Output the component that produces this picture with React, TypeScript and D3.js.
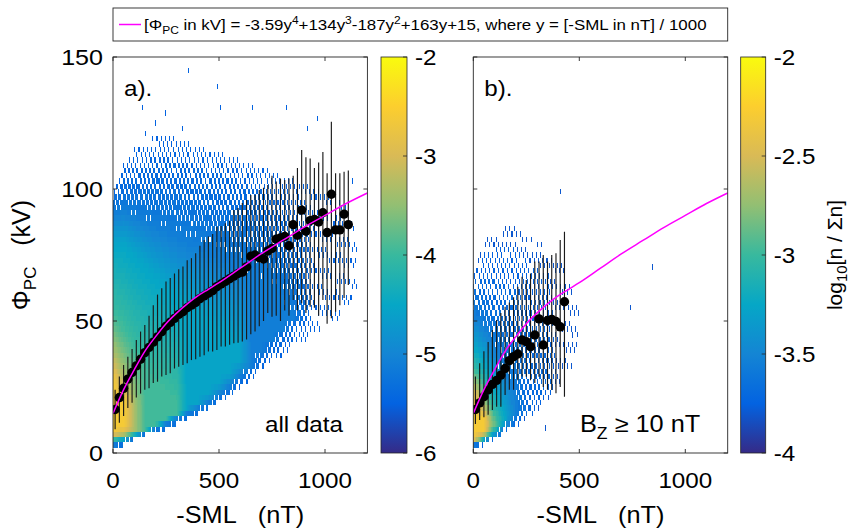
import * as d3 from "d3";

const FONT = "'Liberation Sans', Arial, Helvetica, sans-serif";
const INK = "#262626";
const TOP = 57;
const BOTTOM = 453;
const PW = 254.4;

// MATLAB parula stops
const PARULA = ["#352a87", "#0363e1", "#1485d4", "#06a7c6", "#38b99e", "#92bf73", "#d9ba56", "#fcce2e", "#f9fb0e"];
const parula = d3.piecewise(d3.interpolateRgb, PARULA);

// magenta fit
const fitSml = [0, 50, 100, 150, 200, 250, 300, 350, 400, 450, 500, 600, 700, 800, 900, 1000, 1100, 1200];
const fitPhi = [15, 24, 31.5, 38.5, 44, 49, 53, 56.5, 59.5, 62, 64.5, 70, 75.5, 80.5, 85.5, 90, 94.5, 98.5];

// panel a: binned means with spread
const binA = [10, 30, 50, 70, 90, 110, 130, 150, 170, 190, 210, 230, 250, 270, 290, 310, 330, 350, 370, 390, 410, 430, 450, 470, 490, 510, 530, 550, 570, 590, 610, 630, 650, 670, 690, 710, 730, 750, 770, 790, 810, 830, 850, 870, 890, 910, 930, 950, 970, 990, 1010, 1030, 1050, 1070, 1090, 1110];
const meanA = [16.5, 21, 24.5, 28, 30.5, 33, 35.5, 38, 40, 42, 44, 46, 48, 49.5, 51, 52.5, 53.5, 55, 56, 57, 58.5, 59.5, 60.5, 61.5, 63, 64, 65, 66, 67, 68, 68.5, 70.5, 74.5, 75, 74, 73.5, 76.5, 77.5, 81, 81.5, 82, 78.5, 86.5, 82.5, 92, 84, 88, 88.5, 87.5, 91, 83.5, 98, 84.5, 84.5, 90.5, 86.5];
const lowA = [9, 11.5, 14, 17, 19, 21, 22.5, 24, 24.5, 26.5, 27, 29, 29.5, 30.2, 32, 32.7, 33.3, 34, 35.2, 35.5, 36.5, 37, 38.4, 38.4, 39, 40.3, 40.3, 41, 41.6, 41.8, 42.2, 43, 45, 46, 48, 50, 53, 51.6, 52, 50, 54, 52, 58, 54, 56.7, 53, 55.4, 55, 52, 58, 49, 51, 53.5, 56, 58.7, 63.6];
const highA = [24, 29, 33.3, 36.5, 39.4, 42.8, 46, 48.5, 52, 56, 60, 62.4, 65, 66.3, 68, 69.6, 70.6, 73, 73.8, 75.7, 78.5, 80.7, 82, 83, 85.7, 86, 87, 88, 92, 92.8, 94.7, 95.8, 97.7, 97.7, 99.6, 100.5, 101.5, 105, 102.8, 104, 103.4, 104, 105, 108, 114.8, 112, 111.6, 108, 110, 114, 106, 125.5, 106, 106, 106.5, 107];

// panel b: binned means with spread
const binB = [10, 30, 50, 70, 90, 110, 130, 150, 170, 190, 210, 230, 250, 270, 290, 310, 330, 350, 370, 390, 410, 430];
const meanB = [16.5, 19, 21.3, 23.9, 26, 27.5, 29.5, 32, 35, 36.5, 37.5, 42.8, 42.2, 40.3, 44.7, 50.8, 40.9, 50.2, 50.6, 49.8, 47.8, 57.3];
const lowB = [11, 12.5, 13.5, 14.5, 16.3, 17.5, 17.5, 22, 24, 24, 27.6, 29, 28.9, 27.6, 26.5, 28.9, 25, 24, 23.9, 22.6, 25, 21.3];
const highB = [29, 34, 38.5, 42, 46.6, 50.4, 53, 55.4, 57, 59, 63, 66.8, 65.5, 68, 72.5, 72.5, 75, 72.5, 75, 75.7, 80.7, 83.8];

// histogram density bands (kV edges every 50 nT), panel a
const gridA = [0, 50, 100, 150, 200, 250, 300, 350, 400, 450, 500, 550, 600, 650, 700, 750, 800, 850, 900, 950, 1000, 1050, 1100, 1150];
const aSparseLo = [2, 3, 5, 7, 8, 9, 11, 13, 15, 17, 19, 22, 25, 28, 32, 35, 37, 40, 42, 45, 48, 50, 55, 62];
const aSparseHi = [98, 110, 116, 118, 120, 120, 120, 118, 118, 116, 115, 114, 112, 111, 110, 108, 106, 104, 102, 100, 98, 96, 94, 85];
const aFringeLo = [2, 3, 5, 7, 8, 9, 11, 13, 15, 17, 20, 23, 27, 31, 36, 41, 45, 50, 56];
const aFringeHi = [97, 100, 101, 101, 101, 101, 101, 100, 99, 98, 97, 95, 93, 91, 88, 84, 78, 70, 60];
const aBlueLo = [3, 4, 6, 8, 10, 11, 13, 15, 17, 19, 22, 25, 29, 33, 38, 42, 46, 50];
const aBlueHi = [90, 92, 90, 88, 86, 84, 82, 80, 78, 76, 74, 72, 70, 68, 66, 62, 58, 52];
const aTealLo = [4, 5, 6, 8, 10, 12, 14, 16, 19, 22, 26, 30, 35, 38];
const aTealHi = [80, 80, 76, 72, 68, 64, 60, 57, 54, 50, 47, 44, 40, 38];
const aGreenLo = [5, 6, 8, 9, 11, 13, 15, 17];
const aGreenHi = [52, 46, 38, 32, 27, 23, 19, 17];
const aYellowLo = [6, 7, 9, 11];
const aYellowHi = [38, 28, 18, 11];
const aOrangeLo = [8, 10, 13];
const aOrangeHi = [28, 20, 13];
const aLoneSml = [355, 489, 135, 245, 505, 654, 816, 198, 324, 151, 961, 914, 1126];
const aLonePhi = [145, 138.8, 131, 128.8, 131, 131, 131, 125, 123, 121, 126.6, 123, 103];

// histogram density bands, panel b
const gridB = [0, 50, 100, 150, 200, 250, 300, 350, 400, 450, 500];
const bSparseLo = [2, 3, 5, 8, 10, 13, 16, 20, 25, 30, 40];
const bSparseHi = [72, 80, 84, 85, 85, 82, 80, 78, 74, 68, 55];
const bFringeLo = [3, 4, 6, 9, 12, 16, 22, 28];
const bFringeHi = [62, 60, 56, 52, 47, 42, 36, 30];
const bBlueLo = [3, 4, 6, 10, 15];
const bBlueHi = [52, 48, 40, 30, 20];
const bTealLo = [4, 5, 8, 12];
const bTealHi = [40, 34, 24, 14];
const bGreenLo = [5, 6, 10];
const bGreenHi = [30, 22, 11];
const bYellowLo = [5, 8];
const bYellowHi = [22, 13];
const bLoneSml = [409, 740, 841, 464, 338];
const bLonePhi = [99, 55, 70.5, 44.7, 9.5];

const CELL_X = 5;
const CELL_Y = 2;

interface Band {
  lo: number[];
  hi: number[];
  level: number;
  opacity: number;
}

const bandsA: Band[] = [
  { lo: aSparseLo, hi: aSparseHi, level: -5.5, opacity: 0.13 },
  { lo: aFringeLo, hi: aFringeHi, level: -5.35, opacity: 0.6 },
  { lo: aBlueLo, hi: aBlueHi, level: -5.1, opacity: 1 },
  { lo: aTealLo, hi: aTealHi, level: -4.55, opacity: 1 },
  { lo: aGreenLo, hi: aGreenHi, level: -3.95, opacity: 1 },
  { lo: aYellowLo, hi: aYellowHi, level: -3.3, opacity: 1 },
  { lo: aOrangeLo, hi: aOrangeHi, level: -2.6, opacity: 1 },
];

const bandsB: Band[] = [
  { lo: bSparseLo, hi: bSparseHi, level: -3.8, opacity: 0.12 },
  { lo: bFringeLo, hi: bFringeHi, level: -3.68, opacity: 0.42 },
  { lo: bBlueLo, hi: bBlueHi, level: -3.55, opacity: 1 },
  { lo: bTealLo, hi: bTealHi, level: -3.25, opacity: 1 },
  { lo: bGreenLo, hi: bGreenHi, level: -2.9, opacity: 1 },
  { lo: bYellowLo, hi: bYellowHi, level: -2.3, opacity: 1 },
];

type Lin = d3.ScaleLinear<number, number>;

// density level and fill fraction at one grid column, for phi = v
function profile(bands: Band[], gi: number, v: number) {
  const iv = bands.map((b) => (gi < b.lo.length && b.hi[gi] - b.lo[gi] > 0.5 ? [b.lo[gi], b.hi[gi]] : null));
  let k = -1;
  for (let j = iv.length - 1; j >= 0; j--) {
    const q = iv[j];
    if (q && v >= q[0] && v <= q[1]) {
      k = j;
      break;
    }
  }
  if (k < 0) return { lev: bands[0].level, op: bands[0].opacity };
  const own = iv[k] as number[];
  let lev = bands[k].level;
  let op = bands[k].opacity;
  let j = k + 1;
  while (j < iv.length && !iv[j]) j++;
  if (j < iv.length) {
    const inner = iv[j] as number[];
    let f = v < inner[0] ? (v - own[0]) / Math.max(inner[0] - own[0], 0.5) : (own[1] - v) / Math.max(own[1] - inner[1], 0.5);
    f = Math.max(0, Math.min(1, f));
    lev += f * (bands[j].level - lev);
    op += f * (bands[j].opacity - op);
  }
  return { lev, op };
}

function heatCells(bands: Band[], grid: number[], x: Lin, y: Lin) {
  const outer = bands[0];
  const loEdge = d3.scaleLinear(grid.slice(0, outer.lo.length), outer.lo);
  const hiEdge = d3.scaleLinear(grid.slice(0, outer.hi.length), outer.hi);
  const end = grid[outer.lo.length - 1];
  const w = x(CELL_X) - x(0);
  const h = y(0) - y(CELL_Y);
  const groups = new Map<string, string>();
  for (let s = 0, c = 0; s < end; s += CELL_X, c++) {
    const m = s + CELL_X / 2;
    const gi = Math.min(d3.bisectRight(grid, m) - 1, outer.lo.length - 2);
    const t = (m - grid[gi]) / (grid[gi + 1] - grid[gi]);
    for (let v = 0, r = 0; v < 150; v += CELL_Y, r++) {
      const vc = v + CELL_Y / 2;
      if (vc < loEdge(m) || vc > hiEdge(m)) continue;
      const p0 = profile(bands, gi, vc);
      const p1 = profile(bands, gi + 1, vc);
      const lev = p0.lev + t * (p1.lev - p0.lev);
      const op = p0.op + t * (p1.op - p0.op);
      // R2 low-discrepancy threshold for the thinly filled outskirts
      const thr = (0.5 + c * 0.7548776662 + r * 0.569840291) % 1;
      if (op < 1 && op <= thr) continue;
      const key = (Math.round(lev * 20) / 20).toFixed(2);
      groups.set(key, (groups.get(key) || "") + `M${x(s)},${y(v + CELL_Y)}h${w}v${h}h${-w}Z`);
    }
  }
  return Array.from(groups, ([lev, d]) => ({ lev: +lev, d }));
}

function T({ x, y, size = 22, anchor = "start", sx = 1.1, children }: any) {
  return (
    <text transform={`translate(${x},${y}) scale(${sx},1)`} textAnchor={anchor} fontSize={size} fontFamily={FONT} fill="#000">
      {children}
    </text>
  );
}

function Colorbar({ left, width, domain, ticks, id }: any) {
  const y = d3.scaleLinear(domain, [BOTTOM, TOP]);
  return (
    <g>
      <defs>
        <linearGradient id={id} x1="0" y1="1" x2="0" y2="0">
          {PARULA.map((c, i) => (
            <stop key={i} offset={i / (PARULA.length - 1)} stopColor={c} />
          ))}
        </linearGradient>
      </defs>
      <rect x={left} y={TOP} width={width} height={BOTTOM - TOP} fill={`url(#${id})`} stroke={INK} strokeWidth={0.8} />
      {ticks.map((t: number) => (
        <g key={t}>
          <line x1={left + width - 4} x2={left + width} y1={y(t)} y2={y(t)} stroke={INK} strokeWidth={0.8} />
          <T x={left + width + 8} y={y(t) + 8}>{`${t}`}</T>
        </g>
      ))}
    </g>
  );
}

function Panel({ left, bands, grid, loneSml, lonePhi, bins, mean, low, high, cmin, tag, note, yLabels, id }: any) {
  const x = d3.scaleLinear([0, 1200], [left, left + PW]);
  const y = d3.scaleLinear([0, 150], [BOTTOM, TOP]);
  const fit = d3
    .line<number>()
    .x((_, i) => x(fitSml[i]))
    .y((d) => y(d))
    .curve(d3.curveMonotoneX);
  const tone = (v: number) => parula(Math.max(0, Math.min(1, (v - cmin) / (-2 - cmin))));
  const cells = heatCells(bands, grid, x, y);
  const cellW = x(CELL_X) - x(0);
  const cellH = y(0) - y(CELL_Y);
  return (
    <g>
      <defs>
        <clipPath id={id}>
          <rect x={left} y={TOP} width={PW} height={BOTTOM - TOP} />
        </clipPath>
      </defs>
      <rect x={left} y={TOP} width={PW} height={BOTTOM - TOP} fill="#fff" />
      <g clipPath={`url(#${id})`}>
        {cells.map((c) => (
          <path key={c.lev} d={c.d} fill={tone(c.lev)} shapeRendering="crispEdges" />
        ))}
        {loneSml.map((s: number, i: number) => (
          <rect key={i} x={x(s)} y={y(lonePhi[i]) - cellH / 2} width={cellW} height={cellH} fill={tone(bands[0].level)} shapeRendering="crispEdges" />
        ))}
        {bins.map((s: number, i: number) => (
          <line key={i} x1={x(s)} x2={x(s)} y1={y(low[i])} y2={y(high[i])} stroke="#1a1a1a" strokeWidth={1.15} />
        ))}
        {bins.map((s: number, i: number) => (
          <circle key={i} cx={x(s)} cy={y(mean[i])} r={4.7} fill="#000" />
        ))}
        <path d={fit(fitPhi) || ""} fill="none" stroke="#ff00ff" strokeWidth={1.5} />
      </g>
      <rect x={left} y={TOP} width={PW} height={BOTTOM - TOP} fill="none" stroke={INK} strokeWidth={0.9} />
      {[0, 500, 1000].map((t) => (
        <g key={t}>
          <line x1={x(t)} x2={x(t)} y1={BOTTOM} y2={BOTTOM - 4} stroke={INK} strokeWidth={0.9} />
          <line x1={x(t)} x2={x(t)} y1={TOP} y2={TOP + 4} stroke={INK} strokeWidth={0.9} />
          <T x={x(t)} y={BOTTOM + 35} anchor="middle">{t}</T>
        </g>
      ))}
      {[0, 50, 100, 150].map((t) => (
        <g key={t}>
          <line x1={left} x2={left + 4} y1={y(t)} y2={y(t)} stroke={INK} strokeWidth={0.9} />
          <line x1={left + PW} x2={left + PW - 4} y1={y(t)} y2={y(t)} stroke={INK} strokeWidth={0.9} />
          {yLabels && <T x={left - 10} y={y(t) + 8} anchor="end" sx={1.14}>{t}</T>}
        </g>
      ))}
      <T x={left + 11} y={96}>{tag}</T>
      {note}
      <T x={left + PW / 2} y={523} anchor="middle" size={23}>
        -SML{"\u00a0\u00a0\u00a0"}(nT)
      </T>
    </g>
  );
}

export default function App() {
  return (
    <svg width={856} height={532} style={{ position: "absolute", left: 0, top: 0, background: "#fff" }}>
      <rect width={856} height={532} fill="#fff" />
      <Panel
        id="clipA"
        left={113}
        bands={bandsA}
        grid={gridA}
        loneSml={aLoneSml}
        lonePhi={aLonePhi}
        bins={binA}
        mean={meanA}
        low={lowA}
        high={highA}
        cmin={-6}
        tag="a)."
        yLabels
        note={<T x={265} y={432}>all data</T>}
      />
      <Panel
        id="clipB"
        left={473.3}
        bands={bandsB}
        grid={gridB}
        loneSml={bLoneSml}
        lonePhi={bLonePhi}
        bins={binB}
        mean={meanB}
        low={lowB}
        high={highB}
        cmin={-4}
        tag="b)."
        yLabels={false}
        note={
          <T x={580} y={432} size={23}>
            B<tspan fontSize={16} dy={7}>Z</tspan>
            <tspan dy={-7}>{" \u2265 10 nT"}</tspan>
          </T>
        }
      />
      <Colorbar id="cbA" left={381} width={26} domain={[-6, -2]} ticks={[-6, -5, -4, -3, -2]} />
      <Colorbar id="cbB" left={740.7} width={25} domain={[-4, -2]} ticks={[-4, -3.5, -3, -2.5, -2]} />

      <text transform="translate(30,255) rotate(-90)" textAnchor="middle" fontSize={25} fontFamily={FONT}>
        Φ<tspan fontSize={17} dy={6}>PC</tspan>
        <tspan dy={-6}>{"\u00a0\u00a0\u00a0(kV)"}</tspan>
      </text>
      <text transform="translate(842,255) rotate(-90)" textAnchor="middle" fontSize={21} fontFamily={FONT}>
        log<tspan fontSize={15} dy={5}>10</tspan>
        <tspan dy={-5}>[n / Σn]</tspan>
      </text>

      <rect x={113} y={8} width={614.7} height={33} fill="#fff" stroke={INK} strokeWidth={0.9} />
      <line x1={119} x2={141} y1={24.5} y2={24.5} stroke="#ff00ff" strokeWidth={1.5} />
      <text transform="translate(144,30) scale(1.09,1)" fontSize={15.5} fontFamily={FONT}>
        [Φ<tspan fontSize={11} dy={4}>PC</tspan>
        <tspan dy={-4}> in kV] = -3.59y</tspan>
        <tspan fontSize={11} dy={-6}>4</tspan>
        <tspan dy={6}>+134y</tspan>
        <tspan fontSize={11} dy={-6}>3</tspan>
        <tspan dy={6}>-187y</tspan>
        <tspan fontSize={11} dy={-6}>2</tspan>
        <tspan dy={6}>+163y+15, where y = [-SML in nT] / 1000</tspan>
      </text>
    </svg>
  );
}
